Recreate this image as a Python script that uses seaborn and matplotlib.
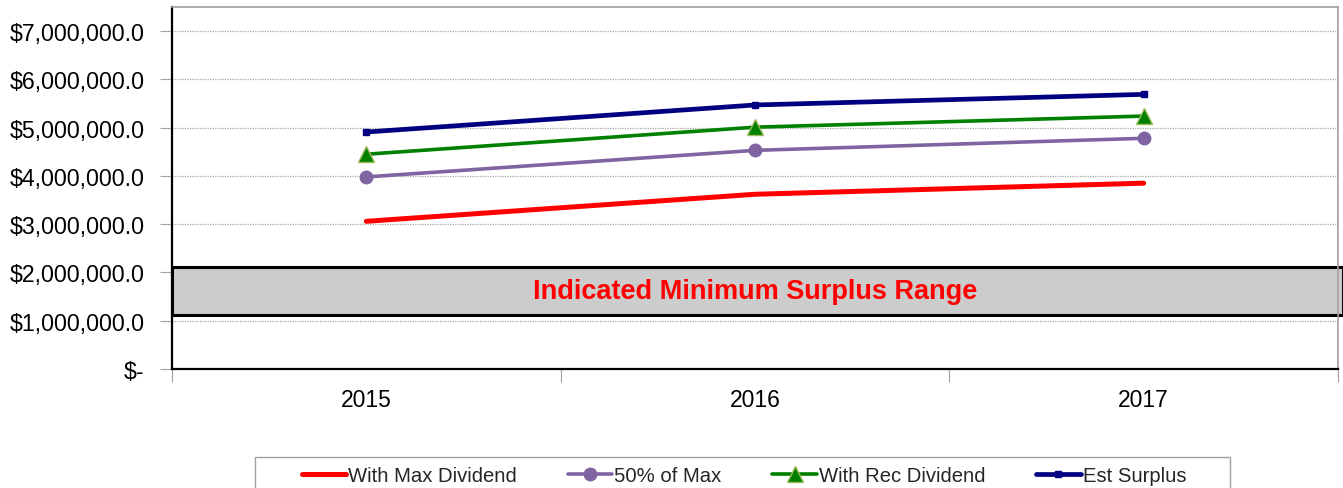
import matplotlib
matplotlib.use("Agg")
import matplotlib.pyplot as plt
import matplotlib.ticker as mticker
from matplotlib.patches import Rectangle
import seaborn as sns
import pandas as pd

years = ["2015", "2016", "2017"]
with_max_dividend = [3060000, 3620000, 3850000]
half_of_max = [3980000, 4530000, 4780000]
with_rec_dividend = [4450000, 5010000, 5240000]
est_surplus = [4910000, 5470000, 5690000]
series_names = ["With Max Dividend", "50% of Max", "With Rec Dividend", "Est Surplus"]
band_low, band_high = 1120000, 2110000
band_label = "Indicated Minimum Surplus Range"
y_ticks = [0, 1000000, 2000000, 3000000, 4000000, 5000000, 6000000, 7000000]

sns.set_theme(style="white")
plt.rcParams['font.family'] = ['Liberation Sans', 'DejaVu Sans']

W, H = 1343, 489
fig = plt.figure(figsize=(W / 100, H / 100), dpi=100)
ax = fig.add_axes([172/W, 1-370/H, (1338-172)/W, (370-8)/H])

df = pd.DataFrame({
    "x": list(range(len(years))) * 4,
    "value": with_max_dividend + half_of_max + with_rec_dividend + est_surplus,
    "series": [s for s in series_names for _ in years],
})

styles = {
    "With Max Dividend": dict(color="#FF0000", lw=3.6, marker=None, ms=0, mec="#FF0000"),
    "50% of Max": dict(color="#8064A2", lw=2.6, marker="o", ms=9, mec="#8064A2"),
    "With Rec Dividend": dict(color="#008000", lw=2.6, marker="^", ms=11, mec="#9BBB59"),
    "Est Surplus": dict(color="#000080", lw=3.4, marker="s", ms=5, mec="#000080"),
}

for name in series_names:
    st = styles[name]
    sub = df[df["series"] == name]
    sns.lineplot(data=sub, x="x", y="value", ax=ax, color=st["color"], linewidth=st["lw"],
                 marker=st["marker"] if st["marker"] else None, markersize=st["ms"],
                 markeredgecolor=st["mec"], markeredgewidth=1.0, label=name, zorder=5)

# band
rect = Rectangle((0, band_low), 1.004, band_high - band_low,
                 transform=ax.get_yaxis_transform(), facecolor="#CCCCCC",
                 edgecolor="black", linewidth=2.2, clip_on=False, zorder=2)
ax.add_patch(rect)
ax.text(1.0, (band_low + band_high) / 2, band_label, color="#FF0000", fontsize=19.5,
        fontweight="bold", ha="center", va="center", zorder=6)

ax.set_xlim(-0.5, 2.5)
ax.set_ylim(0, 7500000)
ax.set_yticks(y_ticks)

def fmt(v, pos):
    if v == 0:
        return "$-"
    return "${:,.1f}".format(v)
ax.yaxis.set_major_formatter(mticker.FuncFormatter(fmt))

ax.set_xticks(range(len(years)))
ax.set_xticklabels(years)
ax.set_xticks([-0.5, 0.5, 1.5, 2.5], minor=True)
ax.tick_params(axis="x", which="major", length=0, pad=14, labelsize=16.5, colors="black")
ax.tick_params(axis="x", which="minor", length=9, width=0.8, color="#A0A0A0", direction="out", bottom=True)
ax.tick_params(axis="y", which="major", length=9, width=0.8, color="#A0A0A0", direction="out",
               left=True, labelsize=16.7, pad=11, labelcolor="black")

ax.yaxis.grid(True, color="#A6A6A6", linestyle=(0, (1, 1)), linewidth=0.9, zorder=0)
ax.xaxis.grid(False)
ax.set_axisbelow(True)
ax.set_xlabel("")
ax.set_ylabel("")

for side in ["top", "right"]:
    ax.spines[side].set_visible(True)
    ax.spines[side].set_color("#A0A0A0")
    ax.spines[side].set_linewidth(1.2)
for side in ["left", "bottom"]:
    ax.spines[side].set_color("black")
    ax.spines[side].set_linewidth(1.6)

handles, labels = ax.get_legend_handles_labels()
ax.legend_.remove()
leg = fig.legend(handles, labels, loc="center", bbox_to_anchor=(744/W, 1-477/H),
                 ncol=4, frameon=False, fontsize=14.6, handlelength=2.2,
                 handletextpad=0.1, columnspacing=2.5, borderpad=0.0)
# legend frame (extends below the figure edge, as in the reference)
frame = Rectangle((255/W, -0.05), (1230-255)/W, 0.05 + (1 - 458/H),
                  transform=fig.transFigure, facecolor="none", edgecolor="#A0A0A0",
                  linewidth=1.0)
fig.patches.append(frame)

fig.savefig("out.png", dpi=100)
